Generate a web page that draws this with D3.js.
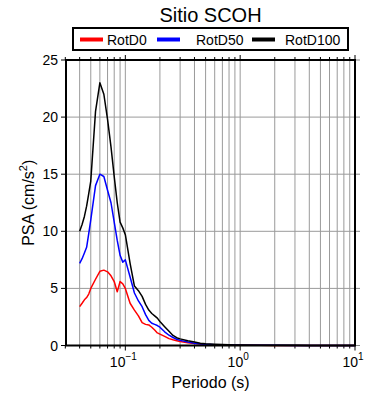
<!DOCTYPE html>
<html lang="es"><head>
<meta charset="utf-8">
<title>Sitio SCOH</title>
<script src="https://cdn.jsdelivr.net/npm/d3@7"></script>
<style>
body { margin: 0; background: #fff; }
text { font-family: "Liberation Sans", Arial, sans-serif; fill: #000; }
</style>
</head>
<body>
<div id="chart"></div>
<script>
// periodos (s) y PSA (cm/s2)
var periods = [0.04, 0.042, 0.044, 0.046, 0.048, 0.05, 0.055, 0.06, 0.065, 0.07, 0.075, 0.08, 0.085, 0.09, 0.095,
  0.1, 0.11, 0.12, 0.13, 0.14, 0.15, 0.16, 0.17, 0.18, 0.19, 0.2, 0.22, 0.24, 0.26, 0.28, 0.3, 0.35, 0.4, 0.45,
  0.5, 0.6, 0.7, 0.8, 0.9, 1, 1.5, 2, 3, 4, 5, 6, 7, 8, 9, 10];
var rotD0 = [3.4, 3.7, 4.0, 4.2, 4.5, 5.0, 5.8, 6.5, 6.6, 6.45, 6.1, 5.6, 4.7, 5.6, 5.4,
  5.0, 3.7, 3.1, 2.6, 2.0, 1.85, 1.8, 1.6, 1.35, 1.1, 1.0, 0.8, 0.6, 0.5, 0.42, 0.35, 0.25, 0.18, 0.12,
  0.09, 0.06, 0.045, 0.035, 0.03, 0.025, 0.015, 0.01, 0.006, 0.004, 0.003, 0.003, 0.002, 0.002, 0.002, 0.002];
var rotD50 = [7.2, 7.6, 8.1, 8.6, 9.8, 11.0, 14.0, 15.0, 14.8, 13.6, 12.5, 10.8, 9.2, 7.9, 7.3,
  7.5, 6.0, 4.6, 3.9, 3.4, 2.7, 2.2, 1.95, 1.85, 1.75, 1.6, 1.2, 0.9, 0.7, 0.55, 0.45, 0.3, 0.2, 0.14,
  0.1, 0.07, 0.05, 0.04, 0.035, 0.03, 0.02, 0.013, 0.008, 0.005, 0.004, 0.003, 0.003, 0.002, 0.002, 0.002];
var rotD100 = [10.0, 10.6, 11.3, 12.2, 13.3, 14.4, 20.5, 23.0, 22.0, 19.8, 17.4, 14.8, 12.5, 10.8, 10.3,
  9.7, 7.2, 5.2, 4.8, 4.3, 3.6, 3.1, 2.8, 2.6, 2.4, 2.1, 1.65, 1.25, 0.88, 0.68, 0.58, 0.42, 0.3, 0.2,
  0.15, 0.11, 0.08, 0.06, 0.05, 0.04, 0.03, 0.02, 0.012, 0.008, 0.006, 0.005, 0.004, 0.004, 0.003, 0.003];
var seriesNames = ["RotD0", "RotD50", "RotD100"];
var seriesColors = ["#ff0000", "#0000ff", "#000000"];
var yTicks = [0, 5, 10, 15, 20, 25];
var xMajor = [0.1, 1, 10];

var width = 390, height = 400;
var pLeft = 66, pRight = 355, pTop = 60, pBottom = 345.5;

var svg = d3.select("#chart").append("svg")
    .attr("width", width)
    .attr("height", height);

var x = d3.scaleLog().domain([0.03, 10]).range([pLeft - 0.7, pRight]);
var y = d3.scaleLinear().domain([0, 25]).range([pBottom, pTop]);

var allTicks = x.ticks();

// grid
svg.append("g").selectAll("line")
    .data(allTicks.filter(function (t) { return t > 0.031 && t < 9.9; }))
    .enter().append("line")
    .attr("x1", function (d) { return x(d); })
    .attr("x2", function (d) { return x(d); })
    .attr("y1", pTop).attr("y2", pBottom)
    .attr("stroke", "#9a9a9a").attr("stroke-width", 1);

svg.append("g").selectAll("line")
    .data(yTicks.slice(1, -1))
    .enter().append("line")
    .attr("x1", pLeft).attr("x2", pRight)
    .attr("y1", function (d) { return y(d); })
    .attr("y2", function (d) { return y(d); })
    .attr("stroke", "#9a9a9a").attr("stroke-width", 1);

// ticks on all four sides
function tickLen(t) {
  return xMajor.indexOf(t) >= 0 ? 5 : 3;
}
svg.append("g").selectAll("line")
    .data(allTicks)
    .enter().append("line")
    .attr("x1", function (d) { return x(d); })
    .attr("x2", function (d) { return x(d); })
    .attr("y1", pBottom).attr("y2", function (d) { return pBottom + tickLen(d); })
    .attr("stroke", "#000").attr("stroke-width", 1);
svg.append("g").selectAll("line")
    .data(allTicks)
    .enter().append("line")
    .attr("x1", function (d) { return x(d); })
    .attr("x2", function (d) { return x(d); })
    .attr("y1", pTop).attr("y2", function (d) { return pTop - tickLen(d); })
    .attr("stroke", "#000").attr("stroke-width", 1);
svg.append("g").selectAll("line")
    .data(yTicks)
    .enter().append("line")
    .attr("x1", pLeft - 5).attr("x2", pLeft)
    .attr("y1", function (d) { return y(d); })
    .attr("y2", function (d) { return y(d); })
    .attr("stroke", "#000").attr("stroke-width", 1);
svg.append("g").selectAll("line")
    .data(yTicks)
    .enter().append("line")
    .attr("x1", pRight).attr("x2", pRight + 5)
    .attr("y1", function (d) { return y(d); })
    .attr("y2", function (d) { return y(d); })
    .attr("stroke", "#888").attr("stroke-width", 1);

// curves
var line = d3.line()
    .x(function (d) { return x(d[0]); })
    .y(function (d) { return y(d[1]); });
[rotD0, rotD50, rotD100].forEach(function (vals, i) {
  svg.append("path")
      .datum(periods.map(function (p, k) { return [p, vals[k]]; }))
      .attr("d", line)
      .attr("fill", "none")
      .attr("stroke", seriesColors[i])
      .attr("stroke-width", 1.5)
      .attr("stroke-linejoin", "round");
});

// frame
svg.append("rect")
    .attr("x", pLeft).attr("y", pTop)
    .attr("width", pRight - pLeft).attr("height", pBottom - pTop)
    .attr("fill", "none").attr("stroke", "#000").attr("stroke-width", 2);

// y tick labels
svg.append("g").selectAll("text")
    .data(yTicks)
    .enter().append("text")
    .attr("x", pLeft - 8)
    .attr("y", function (d) { return y(d) + 5; })
    .attr("text-anchor", "end")
    .attr("font-size", 14)
    .text(function (d) { return d; });

// x tick labels 10^n
var xl = svg.append("g").selectAll("text")
    .data(xMajor)
    .enter().append("text")
    .attr("x", function (d) { return x(d) - 2; })
    .attr("y", 367)
    .attr("text-anchor", "middle")
    .attr("font-size", 14);
xl.append("tspan").text("10");
xl.append("tspan")
    .attr("font-size", 10)
    .attr("dy", -7)
    .text(function (d) { return d3.format("d")(Math.log10(d)).replace("-", "\u2212"); });

// axis titles
svg.append("text")
    .attr("x", (pLeft + pRight) / 2)
    .attr("y", 388)
    .attr("text-anchor", "middle")
    .attr("font-size", 16)
    .text("Periodo (s)");

var yl = svg.append("text")
    .attr("transform", "translate(34," + ((pTop + pBottom) / 2) + ") rotate(-90)")
    .attr("text-anchor", "middle")
    .attr("font-size", 16);
yl.append("tspan").text("PSA (cm/s");
yl.append("tspan").attr("font-size", 11).attr("dy", -7).text("2");
yl.append("tspan").attr("dy", 7).text(")");

// title
svg.append("text")
    .attr("x", (pLeft + pRight) / 2)
    .attr("y", 22)
    .attr("text-anchor", "middle")
    .attr("font-size", 20)
    .text("Sitio SCOH");

// legend
var legend = svg.append("g");
legend.append("rect")
    .attr("x", 73).attr("y", 28)
    .attr("width", 275).attr("height", 22)
    .attr("fill", "#fff").attr("stroke", "#000").attr("stroke-width", 2);
var legX = [80, 157, 252];
var legTextX = [107, 196, 285];
seriesNames.forEach(function (name, i) {
  legend.append("line")
      .attr("x1", legX[i]).attr("x2", legX[i] + 23)
      .attr("y1", 39.5).attr("y2", 39.5)
      .attr("stroke", seriesColors[i]).attr("stroke-width", 4);
  legend.append("text")
      .attr("x", legTextX[i]).attr("y", 44.5)
      .attr("font-size", 14)
      .text(name);
});
</script>
</body></html>
